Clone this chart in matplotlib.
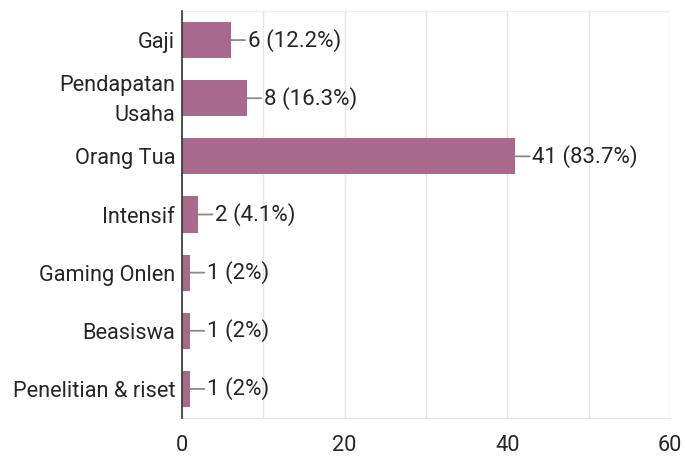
import matplotlib
matplotlib.use("Agg")
import matplotlib.pyplot as plt
from matplotlib.transforms import ScaledTranslation

categories = ["Gaji", "Pendapatan\nUsaha", "Orang Tua", "Intensif", "Gaming Onlen", "Beasiswa", "Penelitian & riset"]
counts = [6, 8, 41, 2, 1, 1, 1]
labels = ["6 (12.2%)", "8 (16.3%)", "41 (83.7%)", "2 (4.1%)", "1 (2%)", "1 (2%)", "1 (2%)"]
xticks = [0, 20, 40, 60]

plt.rcParams['font.family'] = ['Roboto', 'DejaVu Sans']

fig = plt.figure(figsize=(6.85, 4.57), dpi=100)
ax = fig.add_axes([182/685, 1-418/457, (670-182)/685, (418-11)/457])

bar_color = "#a8698c"
ypos = list(range(len(categories)))
ax.barh(ypos, counts, height=0.62, color=bar_color, zorder=3)
ax.set_ylim(len(categories)-0.5, -0.5)
ax.set_xlim(0, 60)

fs = 15.7
for y, v, lab in zip(ypos, counts, labels):
    ax.annotate(lab, xy=(v, y), xytext=(17, 0), textcoords='offset pixels',
                ha='left', va='center', fontsize=fs + 0.3, color='#262626',
                arrowprops=dict(arrowstyle='-', color='#8a8a8a', lw=1.3,
                                shrinkA=0, shrinkB=0), zorder=4)

ax.set_yticks(ypos)
ax.set_yticklabels(categories, fontsize=fs, color='#262626', linespacing=1.55)
ax.set_xticks(xticks)
ax.set_xticklabels([str(t) for t in xticks], fontsize=fs, color='#262626')
ax.set_xticks([10, 30, 50], minor=True)
ax.tick_params(axis='both', which='both', length=0)
ax.tick_params(axis='x', pad=12)
ax.tick_params(axis='y', pad=5)

for lbl in ax.get_yticklabels():
    if "\n" in lbl.get_text():
        lbl.set_transform(lbl.get_transform() + ScaledTranslation(0, 0.05, fig.dpi_scale_trans))

ax.grid(axis='x', which='both', color='#e6e6e6', lw=1, zorder=0)
for s in ['top', 'right']:
    ax.spines[s].set_visible(False)
ax.spines['left'].set_color('#333333')
ax.spines['left'].set_linewidth(1.2)
ax.spines['left'].set_zorder(5)
ax.spines['bottom'].set_color('#e6e6e6')
ax.axhline(-0.5, color='#eeeeee', lw=1, zorder=0)

fig.savefig("out.png", dpi=100)
